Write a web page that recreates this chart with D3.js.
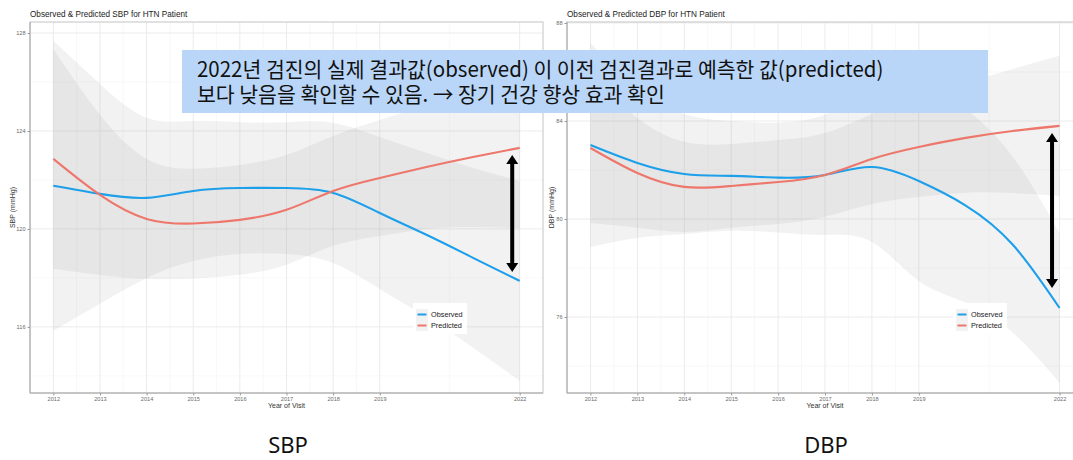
<!DOCTYPE html>
<html>
<head>
<meta charset="utf-8">
<script src="https://cdn.jsdelivr.net/npm/d3@7"></script>
<style>
  body { margin: 0; background: #fff; }
  svg { display: block; }
</style>
</head>
<body>
<svg id="chart" width="1073" height="460"></svg>
<script>
// ---- data ---------------------------------------------------------------
const years = [2012, 2013, 2014, 2015, 2016, 2017, 2018, 2019, 2020, 2021, 2022];
const yearTicks = [2012, 2013, 2014, 2015, 2016, 2017, 2018, 2019, 2022];
const seriesNames = ["Observed", "Predicted"];

// SBP smoothed curves and confidence bands (mmHg)
const sbpObserved   = [121.76, 121.43, 121.27, 121.55, 121.67, 121.67, 121.47, 120.65, 119.76, 118.82, 117.88];
const sbpObservedLo = [115.84, 116.94, 118.00, 118.69, 118.98, 118.98, 118.61, 117.55, 116.41, 115.15, 113.80];
const sbpObservedHi = [127.68, 125.92, 124.54, 124.41, 124.36, 124.36, 124.33, 123.75, 123.11, 122.49, 121.96];
const sbpPredicted   = [122.86, 121.39, 120.41, 120.22, 120.37, 120.78, 121.55, 122.08, 122.53, 122.94, 123.31];
const sbpPredictedLo = [118.37, 118.12, 117.96, 117.98, 118.13, 118.54, 119.31, 119.71, 120.00, 120.08, 120.04];
const sbpPredictedHi = [127.35, 124.66, 122.86, 122.46, 122.61, 123.02, 123.79, 124.45, 125.06, 125.80, 126.58];
const sbpTicks = [116, 120, 124, 128];
const sbpMinorTicks = [114, 118, 122, 126];
const sbpGap = [123.02, 118.24];   // double arrow at 2022

// DBP smoothed curves and confidence bands (mmHg)
const dbpObserved   = [83.02, 82.29, 81.84, 81.76, 81.69, 81.80, 82.12, 81.55, 80.55, 78.96, 76.37];
const dbpObservedLo = [78.86, 79.23, 79.39, 79.52, 79.45, 79.35, 79.06, 77.47, 76.59, 75.37, 73.31];
const dbpObservedHi = [87.18, 85.35, 84.29, 84.00, 83.93, 84.25, 85.18, 85.63, 84.51, 82.55, 79.43];
const dbpPredicted   = [82.90, 81.88, 81.31, 81.35, 81.51, 81.80, 82.45, 82.94, 83.31, 83.59, 83.80];
const dbpPredictedLo = [79.84, 79.64, 79.47, 79.64, 79.80, 80.09, 80.61, 80.90, 81.07, 81.06, 80.94];
const dbpPredictedHi = [85.96, 84.12, 83.15, 83.06, 83.22, 83.51, 84.29, 84.98, 85.55, 86.12, 86.66];
const dbpTicks = [76, 80, 84, 88];
const dbpMinorTicks = [74, 78, 82, 86];
const dbpGap = [83.51, 77.18];

const gapYear = 2021.84;

const bannerLines = [
  "2022년 검진의 실제 결과값(observed) 이 이전 검진결과로 예측한 값(predicted)",
  "보다 낮음을 확인할 수 있음. → 장기 건강 향상 효과 확인"
];
const bannerLineWidths = [687, 480];

// ---- drawing ------------------------------------------------------------
const svg = d3.select("#chart");
const colors = { Observed: "#1d9fea", Predicted: "#ee776c" };
const sansFont = "'Liberation Sans', Arial, sans-serif";
const bandOpacity = 0.13;

function drawPanel(cfg) {
  const g = svg.append("g");
  const x = d3.scaleLinear().domain([2011.5, 2022.5]).range([cfg.left, cfg.right]);
  const y = d3.scaleLinear().domain(cfg.yDomain).range([393, 22]);
  const clipId = "clip-" + cfg.key;

  svg.append("clipPath").attr("id", clipId)
    .append("rect")
    .attr("x", cfg.left).attr("y", 22)
    .attr("width", cfg.right - cfg.left).attr("height", 371);

  // title
  g.append("text")
    .attr("x", cfg.left).attr("y", 17)
    .attr("font-family", sansFont).attr("font-size", 8.2)
    .attr("fill", "#222")
    .text(cfg.title);

  // grid
  const grid = g.append("g").attr("clip-path", `url(#${clipId})`);
  const minorX = [2012.5, 2013.5, 2014.5, 2015.5, 2016.5, 2017.5, 2018.5, 2020.5];
  grid.selectAll(".mx").data(minorX).join("line")
    .attr("x1", d => x(d)).attr("x2", d => x(d))
    .attr("y1", 22).attr("y2", 393)
    .attr("stroke", "#f4f4f4").attr("stroke-width", 0.6);
  grid.selectAll(".my").data(cfg.minorTicks).join("line")
    .attr("x1", cfg.left).attr("x2", cfg.right)
    .attr("y1", d => y(d)).attr("y2", d => y(d))
    .attr("stroke", "#f4f4f4").attr("stroke-width", 0.6);
  grid.selectAll(".gx").data(yearTicks).join("line")
    .attr("x1", d => x(d)).attr("x2", d => x(d))
    .attr("y1", 22).attr("y2", 393)
    .attr("stroke", "#ebebeb").attr("stroke-width", 1);
  grid.selectAll(".gy").data(cfg.ticks).join("line")
    .attr("x1", cfg.left).attr("x2", cfg.right)
    .attr("y1", d => y(d)).attr("y2", d => y(d))
    .attr("stroke", "#ebebeb").attr("stroke-width", 1);

  const curve = d3.curveNatural;
  const area = d3.area()
    .x(d => x(d.year)).y0(d => y(d.lo)).y1(d => y(d.hi))
    .curve(curve);
  const line = d3.line().x(d => x(d.year)).y(d => y(d.v)).curve(curve);

  const marks = g.append("g").attr("clip-path", `url(#${clipId})`);
  cfg.series.forEach(s => {
    const rows = years.map((yr, i) => ({ year: yr, lo: s.lo[i], hi: s.hi[i] }));
    marks.append("path").attr("d", area(rows))
      .attr("fill", "#999").attr("fill-opacity", bandOpacity);
  });
  cfg.series.forEach(s => {
    const rows = years.map((yr, i) => ({ year: yr, v: s.v[i] }));
    marks.append("path").attr("d", line(rows))
      .attr("fill", "none").attr("stroke", colors[s.name])
      .attr("stroke-width", 2.1);
  });

  // panel border and axis lines
  g.append("rect")
    .attr("x", cfg.left).attr("y", 22)
    .attr("width", cfg.right - cfg.left).attr("height", 371)
    .attr("fill", "none").attr("stroke", "#c4c4c4").attr("stroke-width", 1);
  g.append("line").attr("x1", cfg.left).attr("x2", cfg.left)
    .attr("y1", 22).attr("y2", 393).attr("stroke", "#a8a8a8");
  g.append("line").attr("x1", cfg.left).attr("x2", cfg.right)
    .attr("y1", 393).attr("y2", 393).attr("stroke", "#a8a8a8");

  // axes
  const xAxis = d3.axisBottom(x).tickValues(yearTicks).tickFormat(d3.format("d"))
    .tickSize(2.5).tickPadding(2);
  const ax = g.append("g").attr("transform", "translate(0,393)").call(xAxis);
  const yAxis = d3.axisLeft(y).tickValues(cfg.ticks).tickFormat(d3.format("d"))
    .tickSize(2.5).tickPadding(2);
  const ay = g.append("g").attr("transform", `translate(${cfg.left},0)`).call(yAxis);
  [ax, ay].forEach(a => {
    a.select(".domain").remove();
    a.selectAll(".tick line").attr("stroke", "#999");
    a.selectAll(".tick text")
      .attr("font-family", sansFont).attr("font-size", 5.6).attr("fill", "#6a6a6a");
  });

  // axis titles
  g.append("text")
    .attr("x", (cfg.left + cfg.right) / 2).attr("y", 408)
    .attr("text-anchor", "middle")
    .attr("font-family", sansFont).attr("font-size", 7).attr("fill", "#333")
    .text("Year of Visit");
  g.append("text")
    .attr("transform", `translate(${cfg.yLabelX},${(22 + 393) / 2}) rotate(-90)`)
    .attr("text-anchor", "middle")
    .attr("font-family", sansFont).attr("font-size", 7).attr("fill", "#333")
    .text(cfg.yLabel);

  // legend
  const lg = g.append("g").attr("transform", `translate(${cfg.legendX},303)`);
  lg.append("rect").attr("width", 54).attr("height", 31).attr("fill", "#fff");
  seriesNames.forEach((name, i) => {
    const row = lg.append("g").attr("transform", `translate(3,${6 + i * 11})`);
    row.append("rect").attr("width", 12).attr("height", 11)
      .attr("fill", "#999").attr("fill-opacity", bandOpacity);
    row.append("line").attr("x1", 1.5).attr("x2", 10.5)
      .attr("y1", 5.5).attr("y2", 5.5)
      .attr("stroke", colors[name]).attr("stroke-width", 2);
    row.append("text").attr("x", 15).attr("y", 8.3)
      .attr("font-family", sansFont).attr("font-size", 7.3).attr("fill", "#222")
      .text(name);
  });

  // double-headed arrow marking the 2022 gap
  const ax0 = x(gapYear), yTop = y(cfg.gap[0]), yBot = y(cfg.gap[1]);
  const headL = 9, headW = 6, shaft = 2;
  const arrow = d3.path();
  arrow.moveTo(ax0, yTop);
  arrow.lineTo(ax0 + headW, yTop + headL);
  arrow.lineTo(ax0 + shaft, yTop + headL);
  arrow.lineTo(ax0 + shaft, yBot - headL);
  arrow.lineTo(ax0 + headW, yBot - headL);
  arrow.lineTo(ax0, yBot);
  arrow.lineTo(ax0 - headW, yBot - headL);
  arrow.lineTo(ax0 - shaft, yBot - headL);
  arrow.lineTo(ax0 - shaft, yTop + headL);
  arrow.lineTo(ax0 - headW, yTop + headL);
  arrow.closePath();
  g.append("path").attr("d", arrow.toString()).attr("fill", "#000");

  // caption under the panel
  svg.append("text")
    .attr("x", cfg.captionX).attr("y", 453)
    .attr("text-anchor", "middle")
    .attr("font-family", "'Noto Sans', 'Open Sans', sans-serif")
    .attr("font-size", 22).attr("fill", "#111")
    .text(cfg.caption);
}

drawPanel({
  key: "sbp", left: 30, right: 543, yDomain: [113.3, 128.45],
  title: "Observed & Predicted SBP for HTN Patient",
  yLabel: "SBP (mmHg)", yLabelX: 15,
  ticks: sbpTicks, minorTicks: sbpMinorTicks,
  series: [
    { name: "Observed", v: sbpObserved, lo: sbpObservedLo, hi: sbpObservedHi },
    { name: "Predicted", v: sbpPredicted, lo: sbpPredictedLo, hi: sbpPredictedHi }
  ],
  legendX: 413, gap: sbpGap, caption: "SBP", captionX: 288
});

drawPanel({
  key: "dbp", left: 567, right: 1083, yDomain: [72.9, 88.04],
  title: "Observed & Predicted DBP for HTN Patient",
  yLabel: "DBP (mmHg)", yLabelX: 554,
  ticks: dbpTicks, minorTicks: dbpMinorTicks,
  series: [
    { name: "Observed", v: dbpObserved, lo: dbpObservedLo, hi: dbpObservedHi },
    { name: "Predicted", v: dbpPredicted, lo: dbpPredictedLo, hi: dbpPredictedHi }
  ],
  legendX: 953, gap: dbpGap, caption: "DBP", captionX: 826
});

// highlighted note across both panels
const note = svg.append("g");
note.append("rect")
  .attr("x", 182).attr("y", 50).attr("width", 806).attr("height", 63)
  .attr("fill", "#b9d6f8");
const noteText = note.append("text")
  .attr("font-family", "'Noto Sans CJK KR', 'Noto Sans', sans-serif")
  .attr("font-size", 21).attr("fill", "#111");
const spans = noteText.selectAll("tspan").data(bannerLines).join("tspan")
  .text(d => d);
// fit each line horizontally into its slot, keeping glyph height
spans.each(function (d, i) {
  const w = this.getComputedTextLength();
  const sx = bannerLineWidths[i] / w;
  d3.select(this)
    .attr("x", 197 / sx)
    .attr("y", 77 + i * 25.5);
});
const s0 = bannerLineWidths[0] / spans.nodes()[0].getComputedTextLength();
// a single horizontal scale keeps both lines in the same typeface width
spans.attr("x", 197 / s0);
noteText.attr("transform", `scale(${s0},1)`);
</script>
</body>
</html>
